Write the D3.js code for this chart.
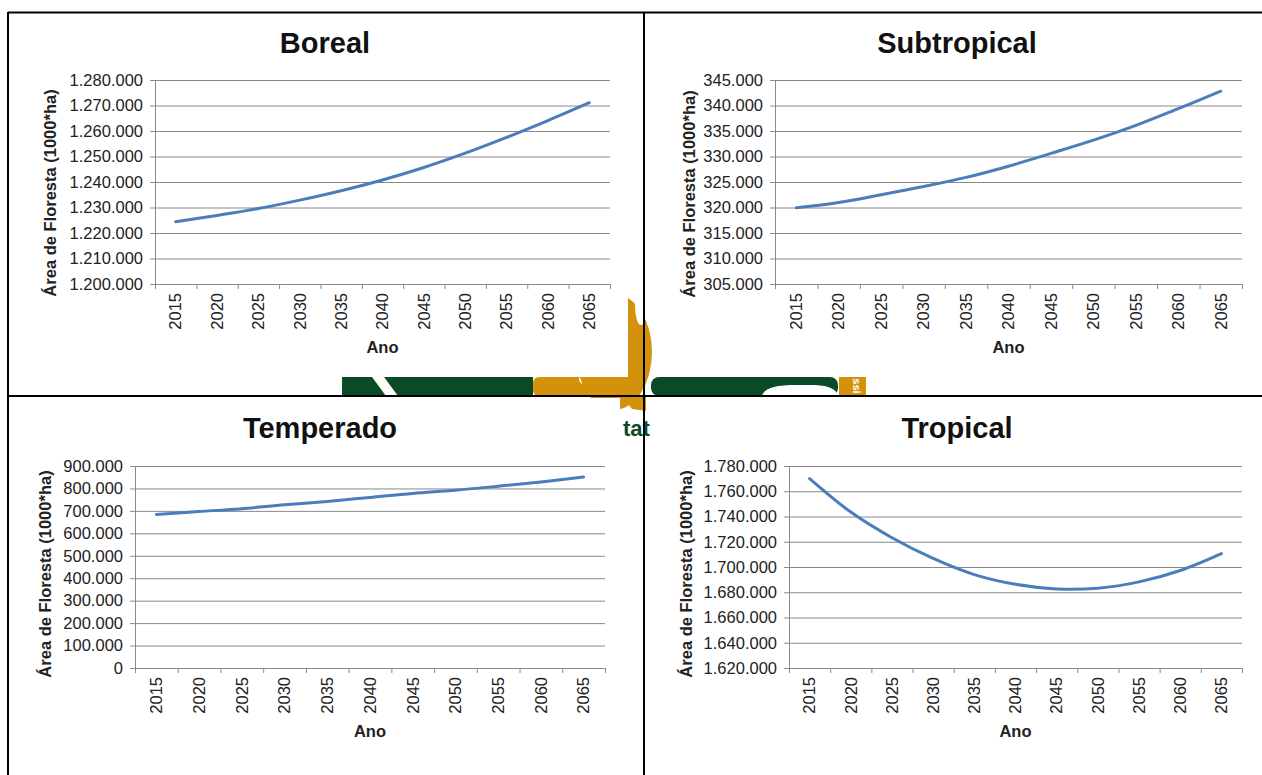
<!DOCTYPE html>
<html>
<head>
<meta charset="utf-8">
<script src="https://cdn.jsdelivr.net/npm/d3@7"></script>
<style>
  body { margin: 0; background: #fff; }
  svg { display: block; }
  .tick text { font-family: "Liberation Sans", Arial, sans-serif; fill: #222; }
</style>
</head>
<body>
<svg id="chart" width="1262" height="775"></svg>
<script>
// Years on the x axis (same for all four charts)
const years = [2015, 2020, 2025, 2030, 2035, 2040, 2045, 2050, 2055, 2060, 2065];

// Forest area per biome (1000*ha)
const borealValues = [1224400, 1226900, 1229600, 1232900, 1236600, 1240800, 1245700, 1251300, 1257500, 1264100, 1271100];
const subtropicalValues = [319950, 321000, 322500, 324100, 325900, 328100, 330600, 333200, 336100, 339400, 342800];
const temperadoValues = [684000, 697000, 710000, 727000, 742000, 760000, 778000, 792000, 810000, 829000, 851000];
const tropicalValues = [1770000, 1743500, 1723200, 1706800, 1694000, 1686300, 1682600, 1683200, 1688200, 1697200, 1710600];

// Tick values for the y axes
const borealTicks = [1200000, 1210000, 1220000, 1230000, 1240000, 1250000, 1260000, 1270000, 1280000];
const subtropicalTicks = [305000, 310000, 315000, 320000, 325000, 330000, 335000, 340000, 345000];
const temperadoTicks = [0, 100000, 200000, 300000, 400000, 500000, 600000, 700000, 800000, 900000];
const tropicalTicks = [1620000, 1640000, 1660000, 1680000, 1700000, 1720000, 1740000, 1760000, 1780000];

const titles = ["Boreal", "Subtropical", "Temperado", "Tropical"];
const yTitle = "Área de Floresta (1000*ha)";
const xTitle = "Ano";

const FONT = '"Liberation Sans", Arial, sans-serif';
const LINE_COLOR = "#4a7ebb";
const GRID_COLOR = "#8a8a8a";

// Portuguese number format: 1.280.000
const ptFormat = d3.formatLocale({ decimal: ",", thousands: ".", grouping: [3], currency: ["", ""] }).format(",.0f");

const svg = d3.select("#chart");

// ---- watermark logo peeking between the charts ----
const logo = svg.append("g");
logo.append("rect").attr("x", 342).attr("y", 377).attr("width", 191).attr("height", 19).attr("fill", "#0b4a27");
logo.append("path").attr("d", "M372,377 L384,377 L398,396 L386,396 Z").attr("fill", "#fff");
logo.append("rect").attr("x", 533).attr("y", 377).attr("width", 95).attr("height", 19).attr("rx", 6).attr("fill", "#d4920c");
logo.append("ellipse").attr("cx", 589).attr("cy", 379).attr("rx", 10).attr("ry", 7).attr("fill", "#fff");
logo.append("ellipse").attr("cx", 614).attr("cy", 352).attr("rx", 38).attr("ry", 58).attr("fill", "#d4920c");
logo.append("ellipse").attr("cx", 641).attr("cy", 305).attr("rx", 6).attr("ry", 20).attr("fill", "#fff");
logo.append("path").attr("d", "M622,396 L646,396 L646,411 L632,409 Z").attr("fill", "#d4920c");
logo.append("rect").attr("x", 651).attr("y", 377).attr("width", 187).attr("height", 19).attr("rx", 8).attr("fill", "#0b4a27");
logo.append("path").attr("d", "M762,396 Q764,386 790,385 L815,385 Q836,386 838,396 Z").attr("fill", "#fff");
logo.append("rect").attr("x", 839).attr("y", 377).attr("width", 27).attr("height", 19).attr("fill", "#d4920c");
logo.append("text").attr("transform", "translate(857,386) rotate(90)")
  .attr("text-anchor", "middle").attr("dy", "0.35em")
  .style("font-family", FONT).style("font-weight", "bold").style("font-size", "11px")
  .attr("fill", "#fff").text("ssi");
logo.append("text").attr("x", 623).attr("y", 436)
  .style("font-family", FONT).style("font-weight", "bold").style("font-size", "22px")
  .attr("fill", "#0b4a27").text("tat");

// ---- white chart backgrounds covering the logo ----
const backgrounds = [
  [10, 14, 618, 363],
  [652, 14, 610, 363],
  [10, 398, 610, 377],
  [652, 398, 610, 377]
];
backgrounds.forEach(b => {
  svg.append("rect").attr("x", b[0]).attr("y", b[1]).attr("width", b[2]).attr("height", b[3]).attr("fill", "#fff");
});

// ---- panel layout ----
const panels = [
  { title: titles[0], values: borealValues, ticks: borealTicks,
    left: 155, right: 610, top: 80, bottom: 284,
    titleX: 325, titleY: 53, yLabX: 50, yLabY: 193, anoY: 353 },
  { title: titles[1], values: subtropicalValues, ticks: subtropicalTicks,
    left: 775, right: 1242, top: 80, bottom: 284,
    titleX: 957, titleY: 53, yLabX: 689, yLabY: 194, anoY: 353 },
  { title: titles[2], values: temperadoValues, ticks: temperadoTicks,
    left: 135, right: 605, top: 466, bottom: 668,
    titleX: 320, titleY: 438, yLabX: 45, yLabY: 574, anoY: 737 },
  { title: titles[3], values: tropicalValues, ticks: tropicalTicks,
    left: 789, right: 1242, top: 466, bottom: 668,
    titleX: 957, titleY: 438, yLabX: 686, yLabY: 574, anoY: 737 }
];

panels.forEach(p => {
  const g = svg.append("g");

  const x = d3.scaleBand().domain(years).range([p.left, p.right]);
  const xEdges = d3.scaleLinear().domain([0, years.length]).range([p.left, p.right]);
  const y = d3.scaleLinear().domain(d3.extent(p.ticks)).range([p.bottom, p.top]);

  // horizontal grid lines
  g.append("g")
    .attr("transform", `translate(${p.left},0)`)
    .call(d3.axisLeft(y).tickValues(p.ticks).tickSize(-(p.right - p.left)).tickFormat(""))
    .call(a => a.select(".domain").remove())
    .call(a => a.selectAll("line").attr("stroke", GRID_COLOR).attr("stroke-width", 1));

  // y axis with labels
  g.append("g")
    .attr("transform", `translate(${p.left},0)`)
    .call(d3.axisLeft(y).tickValues(p.ticks).tickSize(5).tickPadding(7).tickFormat(ptFormat))
    .call(a => a.select(".domain").attr("stroke", GRID_COLOR))
    .call(a => a.selectAll("line").attr("stroke", GRID_COLOR))
    .call(a => a.selectAll("text").style("font-size", "16.5px"));

  // x axis: tick marks at category edges
  g.append("g")
    .attr("transform", `translate(0,${p.bottom})`)
    .call(d3.axisBottom(xEdges).ticks(years.length).tickSize(5).tickFormat(""))
    .call(a => a.select(".domain").attr("stroke", GRID_COLOR))
    .call(a => a.selectAll("line").attr("stroke", GRID_COLOR));

  // x axis: rotated year labels at category centres
  g.append("g")
    .attr("transform", `translate(0,${p.bottom})`)
    .call(d3.axisBottom(x).tickSize(0).tickPadding(0))
    .call(a => a.select(".domain").remove())
    .call(a => a.selectAll("text")
      .style("font-size", "16.5px")
      .attr("text-anchor", "end")
      .attr("transform", "translate(0,9) rotate(-90)")
      .attr("x", 0).attr("y", 0).attr("dy", "0.35em"));

  // data line
  const line = d3.line()
    .x((d, i) => x(years[i]) + x.bandwidth() / 2)
    .y(d => y(d))
    .curve(d3.curveCatmullRom);

  g.append("path")
    .datum(p.values)
    .attr("d", line)
    .attr("fill", "none")
    .attr("stroke", LINE_COLOR)
    .attr("stroke-width", 3)
    .attr("stroke-linecap", "round");

  // titles
  g.append("text")
    .attr("x", p.titleX).attr("y", p.titleY)
    .attr("text-anchor", "middle")
    .style("font-family", FONT).style("font-weight", "bold").style("font-size", "29px")
    .attr("fill", "#111")
    .text(p.title);

  g.append("text")
    .attr("transform", `translate(${p.yLabX},${p.yLabY}) rotate(-90)`)
    .attr("text-anchor", "middle").attr("dy", "0.35em")
    .style("font-family", FONT).style("font-weight", "bold").style("font-size", "16.5px")
    .attr("fill", "#222")
    .text(yTitle);

  g.append("text")
    .attr("x", (p.left + p.right) / 2).attr("y", p.anoY)
    .attr("text-anchor", "middle")
    .style("font-family", FONT).style("font-weight", "bold").style("font-size", "16.5px")
    .attr("fill", "#222")
    .text(xTitle);
});

// ---- table borders ----
const borders = [
  [8, 12.5, 1262, 12.5],
  [8, 12, 8, 775],
  [644, 12, 644, 775],
  [8, 396, 1262, 396]
];
borders.forEach(b => {
  svg.append("line").attr("x1", b[0]).attr("y1", b[1]).attr("x2", b[2]).attr("y2", b[3])
    .attr("stroke", "#000").attr("stroke-width", 2);
});
</script>
</body>
</html>
